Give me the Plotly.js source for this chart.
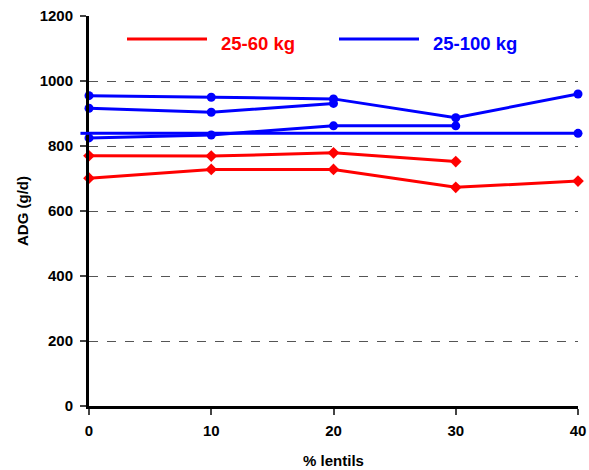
<!DOCTYPE html>
<html><head><meta charset="utf-8">
<script src="https://cdn.plot.ly/plotly-3.0.1.min.js"></script>
<style>html,body{margin:0;padding:0;background:#fff}#c{width:589px;height:470px}</style>
</head><body><div id="c"></div>
<script>
const xLent = [0, 10, 20, 30, 40];
const red1 = [770, 769, 779, 752];
const red2 = [701, 728, 728, 673, 692];
const blueA = [955, 950, 945, 887, 960];
const blueB = [916, 904, 931];
const blueC = [825, 834, 862, 862];
const blueDx = [-0.7, 40];
const blueD = [839, 839];
const yTicks = [0, 200, 400, 600, 800, 1000, 1200];
const xTicks = [0, 10, 20, 30, 40];
const legendNames = ["25-60 kg", "25-100 kg"];

const RED = "#ff0000", BLUE = "#0000ff";
function tr(x, y, c, sym, mode) {
  return {x: x, y: y, type: "scatter", mode: mode || "lines+markers", showlegend: false, cliponaxis: false,
    line: {color: c, width: 3}, marker: {color: c, symbol: sym, size: 9}};
}
const xMin = 0, xMax = 40;
const data = [
  tr(xLent.slice(0, red1.length), red1, RED, "diamond"),
  tr(xLent, red2, RED, "diamond"),
  tr(xLent, blueA, BLUE, "circle"),
  tr(xLent.slice(0, blueB.length), blueB, BLUE, "circle"),
  tr(xLent.slice(0, blueC.length), blueC, BLUE, "circle"),
  tr([Math.max(blueDx[0], xMin), blueDx[1]], blueD, BLUE, "circle", "lines"),
  tr([blueDx[1]], [blueD[1]], BLUE, "circle", "markers")
];
const ff = "Liberation Sans, Arial, sans-serif";
const font = {family: ff, color: "#000", size: 15};
const layout = {
  width: 589, height: 470,
  margin: {l: 89, r: 11, t: 16, b: 64},
  paper_bgcolor: "#fff", plot_bgcolor: "#fff",
  font: font,
  xaxis: {range: [xMin, xMax], tickvals: xTicks, ticktext: xTicks.map(String), ticks: "outside", ticklen: 6, tickwidth: 2,
    ticklabelstandoff: 3,
    showline: true, linewidth: 3, linecolor: "#000", showgrid: false, zeroline: false,
    tickfont: {family: ff, size: 15, color: "#000", weight: "bold"},
    title: {text: "<b>% lentils</b>", font: {family: ff, size: 15}, standoff: 18}},
  yaxis: {range: [0, 1200], tickvals: yTicks, ticktext: yTicks.map(String), ticks: "outside", ticklen: 6, tickwidth: 2,
    ticklabelstandoff: 4,
    showline: true, linewidth: 3, linecolor: "#000", showgrid: true, gridcolor: "#555", griddash: "dash", gridwidth: 1,
    zeroline: false,
    tickfont: {family: ff, size: 15, color: "#000", weight: "bold"},
    title: {text: "<b>ADG (g/d)</b>", font: {family: ff, size: 15}, standoff: 8}},
  shapes: [
    {type: "line", xref: "paper", yref: "y", x0: (blueDx[0]-xMin)/(xMax-xMin), x1: 0, y0: blueD[0], y1: blueD[0], line: {color: BLUE, width: 3}},
    {type: "line", xref: "paper", yref: "paper", x0: (127-89)/489, x1: (207-89)/489, y0: (406-39)/390, y1: (406-39)/390, line: {color: RED, width: 3}},
    {type: "line", xref: "paper", yref: "paper", x0: (339-89)/489, x1: (419-89)/489, y0: (406-39)/390, y1: (406-39)/390, line: {color: BLUE, width: 3}}
  ],
  annotations: [
    {xref: "paper", yref: "paper", x: (219-89)/489, y: (406-44)/390, xanchor: "left", yanchor: "middle", showarrow: false,
      text: "<b>" + legendNames[0] + "</b>", font: {family: ff, size: 18.5, color: RED}},
    {xref: "paper", yref: "paper", x: (431-89)/489, y: (406-44)/390, xanchor: "left", yanchor: "middle", showarrow: false,
      text: "<b>" + legendNames[1] + "</b>", font: {family: ff, size: 18.5, color: BLUE}}
  ]
};
Plotly.newPlot("c", data, layout, {staticPlot: true, displayModeBar: false});
</script></body></html>
